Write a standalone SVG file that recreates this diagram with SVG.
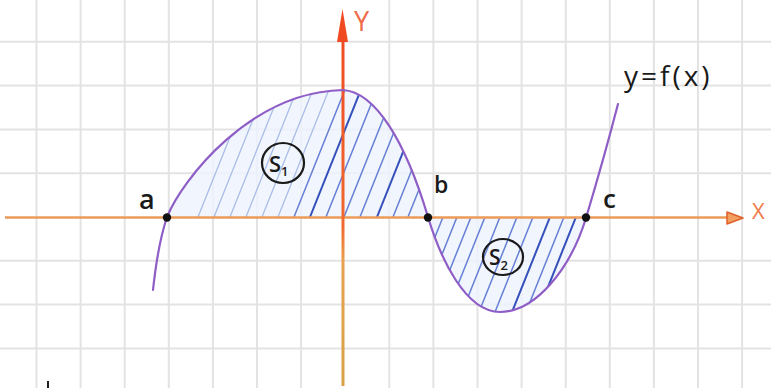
<svg xmlns="http://www.w3.org/2000/svg" width="771" height="388" viewBox="0 0 771 388">
<style>
.grid line{stroke:#e3e3e3;stroke-width:2}
.curve{fill:none;stroke:#8e5ec6;stroke-width:2.2;stroke-linecap:round}
.hl{stroke:#a9bde8;stroke-width:1.3}
.hm{stroke:#6580d4;stroke-width:1.5}
.hd{stroke:#3550bb;stroke-width:2}
.lbl{font-family:"Open Sans","DejaVu Sans",sans-serif;fill:#1a1a1a;font-weight:600}
.fx{font-weight:400}
.ring{fill:none;stroke:#1a1a1a;stroke-width:2.2}
.dot{fill:#111}
</style>
<defs>
<linearGradient id="yg" x1="0" y1="0" x2="0" y2="1">
<stop offset="0" stop-color="#ef4a22"/>
<stop offset="0.55" stop-color="#ef6a30"/>
<stop offset="0.65" stop-color="#e9a050"/>
<stop offset="1" stop-color="#d9a048"/>
</linearGradient>
<clipPath id="c1"><path d="M167,217 C182,180 250,92 343,90 C375,92 405,140 428,217 Z"/></clipPath>
<clipPath id="c2"><path d="M428,217 C440,257 465,312 500,312 C535,312 570,270 586,218 Z"/></clipPath>
</defs>
<rect width="771" height="388" fill="#fff"/>
<g id="grid" class="grid">
<line x1="36.5" y1="0" x2="36.5" y2="388"/><line x1="80.6" y1="0" x2="80.6" y2="388"/><line x1="124.7" y1="0" x2="124.7" y2="388"/><line x1="168.8" y1="0" x2="168.8" y2="388"/><line x1="212.9" y1="0" x2="212.9" y2="388"/><line x1="257" y1="0" x2="257" y2="388"/><line x1="301.1" y1="0" x2="301.1" y2="388"/><line x1="389.3" y1="0" x2="389.3" y2="388"/><line x1="433.4" y1="0" x2="433.4" y2="388"/><line x1="477.5" y1="0" x2="477.5" y2="388"/><line x1="521.6" y1="0" x2="521.6" y2="388"/><line x1="565.7" y1="0" x2="565.7" y2="388"/><line x1="609.8" y1="0" x2="609.8" y2="388"/><line x1="653.9" y1="0" x2="653.9" y2="388"/><line x1="698" y1="0" x2="698" y2="388"/><line x1="742.1" y1="0" x2="742.1" y2="388"/>
<line x1="0" y1="41.8" x2="771" y2="41.8"/><line x1="0" y1="85.6" x2="771" y2="85.6"/><line x1="0" y1="129.4" x2="771" y2="129.4"/><line x1="0" y1="173.2" x2="771" y2="173.2"/><line x1="0" y1="260.8" x2="771" y2="260.8"/><line x1="0" y1="304.6" x2="771" y2="304.6"/><line x1="0" y1="348.4" x2="771" y2="348.4"/>
</g>
<g id="shading-s1">
<path d="M167,217 C182,180 250,92 343,90 C375,92 405,140 428,217 Z" fill="#eef3fc" opacity="0.8"/>
<g clip-path="url(#c1)">
<line class="hl" x1="198" y1="217" x2="250" y2="87"/>
<line class="hl" x1="214" y1="217" x2="266" y2="87"/>
<line class="hl" x1="230" y1="217" x2="282" y2="87"/>
<line class="hl" x1="246" y1="217" x2="298" y2="87"/>
<line class="hl" x1="262" y1="217" x2="314" y2="87"/>
<line class="hl" x1="278" y1="217" x2="330" y2="87"/>
<line class="hm" x1="294" y1="217" x2="346" y2="87"/>
<line class="hd" x1="310" y1="217" x2="362" y2="87"/>
<line class="hm" x1="326" y1="217" x2="378" y2="87"/>
<line class="hm" x1="344" y1="217" x2="396" y2="87"/>
<line class="hm" x1="360" y1="217" x2="412" y2="87"/>
<line class="hd" x1="377" y1="217" x2="429" y2="87"/>
<line class="hm" x1="393" y1="217" x2="445" y2="87"/>
<line class="hm" x1="408" y1="217" x2="460" y2="87"/>
</g>
</g>
<g id="shading-s2">
<path d="M428,217 C440,257 465,312 500,312 C535,312 570,270 586,218 Z" fill="#eef3fc" opacity="0.8"/>
<g clip-path="url(#c2)">
<line class="hm" x1="443" y1="217" x2="403" y2="317"/>
<line class="hm" x1="457" y1="217" x2="417" y2="317"/>
<line class="hm" x1="471" y1="217" x2="431" y2="317"/>
<line class="hm" x1="485" y1="217" x2="445" y2="317"/>
<line class="hm" x1="500" y1="217" x2="460" y2="317"/>
<line class="hm" x1="517" y1="217" x2="477" y2="317"/>
<line class="hm" x1="533" y1="217" x2="493" y2="317"/>
<line class="hd" x1="550" y1="217" x2="510" y2="317"/>
<line class="hm" x1="564" y1="217" x2="524" y2="317"/>
<line class="hd" x1="576" y1="217" x2="536" y2="317"/>
</g>
</g>
<g id="axes">
<line x1="5" y1="217.5" x2="732" y2="217.5" stroke="#eb9a58" stroke-width="2.6"/>
<path d="M727,212 L743,218 L727,224 Z" fill="#f2a060" stroke="#e0602a" stroke-width="1.5" stroke-linejoin="round"/>
<rect x="341.5" y="30" width="3" height="356" fill="url(#yg)"/>
<path d="M342.5,9 L348,42 L337,42 Z" fill="#ef4a22"/>
<text x="354" y="31" font-family="'Open Sans','DejaVu Sans',sans-serif" font-size="27" fill="#f06a48">Y</text>
<text x="752" y="219" font-family="'Open Sans','DejaVu Sans',sans-serif" font-size="22" fill="#f07a48">X</text>
</g>
<g id="curve">
<path class="curve" d="M153,290 C156,262 160,238 167,217 C182,180 250,92 343,90 C375,92 405,140 428,217 C440,257 465,312 500,312 C535,312 570,270 586,218 C595,188 610,135 618,104"/>
</g>
<g id="points">
<circle class="dot" cx="167" cy="217.5" r="4.2"/>
<circle class="dot" cx="428" cy="217.5" r="4.2"/>
<circle class="dot" cx="586" cy="217.5" r="4.2"/>
</g>
<g id="labels">
<text class="lbl" x="139" y="209" font-size="27">a</text>
<text class="lbl" x="434" y="193" font-size="23">b</text>
<text class="lbl" x="603" y="208" font-size="26">c</text>
<text class="lbl fx" x="624" y="86" font-size="28" letter-spacing="3">y=f(x)</text>
</g>
<g id="s1-label">
<ellipse class="ring" cx="283" cy="163" rx="21" ry="20"/>
<text class="lbl" x="269" y="172" font-size="22">S<tspan font-size="13" dy="4">1</tspan></text>
</g>
<g id="s2-label">
<ellipse class="ring" cx="503" cy="257" rx="20" ry="18"/>
<text class="lbl" x="489" y="265" font-size="21">S<tspan font-size="13" dy="5">2</tspan></text>
</g>
<line x1="48" y1="381" x2="48" y2="388" stroke="#222" stroke-width="2"/>
</svg>
